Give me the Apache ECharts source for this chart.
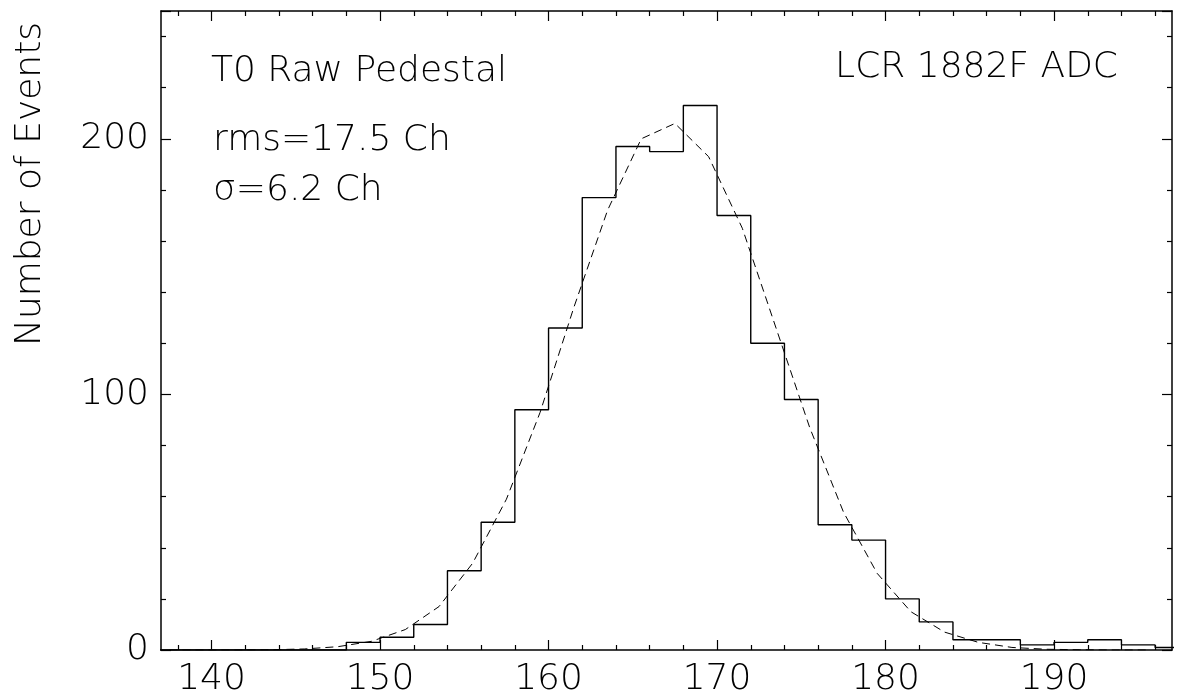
<!DOCTYPE html>
<html>
<head>
<meta charset="utf-8">
<title>T0 Raw Pedestal</title>
<script src="https://cdn.jsdelivr.net/npm/echarts@6/dist/echarts.min.js"></script>
<style>
	html, body { margin: 0; padding: 0; background: #fff; }
	#chart { width: 1177px; height: 698px; }
</style>
</head>
<body>
<div id="chart"></div>
<script>
// histogram bins (2 channels wide), left edges plus final right edge
const binEdges = [ 136, 138, 140, 142, 144, 146, 148, 150, 152, 154, 156, 158, 160, 162, 164, 166,
	168, 170, 172, 174, 176, 178, 180, 182, 184, 186, 188, 190, 192, 194, 196, 198 ];
const counts = [ 0, 0, 0, 0, 0, 0, 3, 5, 10, 31, 50, 94, 126, 177, 197, 195,
	213, 170, 120, 98, 49, 43, 20, 11, 4, 4, 2, 3, 4, 2, 1 ];

// gaussian fit
const fitX = [ 137.5, 139.5, 141.5, 143.5, 145.5, 147.5, 149.5, 151.5, 153.5, 155.5, 157.5, 159.5,
	161.5, 163.5, 165.5, 167.5, 169.5, 171.5, 173.5, 175.5, 177.5, 179.5, 181.5, 183.5, 185.5,
	187.5, 189.5, 191.5, 193.5, 195.5 ];
const fitY = [ 0, 0, 0, 0.1, 0.4, 1.3, 3.4, 8, 17, 34, 59, 93,
	134, 172, 200, 206, 193, 165, 126, 87, 54, 30, 15, 7, 3,
	1, 0.3, 0.1, 0, 0 ];

const xRange = [ 137, 197 ];
const yRange = [ 0, 250 ];
const xMajorTicks = [ 140, 150, 160, 170, 180, 190 ];
const xMinorTicks = [ 138, 142, 144, 146, 148, 152, 154, 156, 158, 162, 164, 166, 168,
	172, 174, 176, 178, 182, 184, 186, 188, 192, 194, 196 ];
const yTickStep = 100;

const titleTexts = [ 'T0 Raw Pedestal', 'rms=17.5 Ch', 'σ=6.2 Ch' ];
const rightText = 'LCR 1882F ADC';
const yTitle = 'Number of Events';

const FONT = '"DejaVu Sans", Helvetica, Arial, sans-serif';
const WEIGHT = 200;

const histData = counts.map( ( c, i ) => [ binEdges[ i ], c ] );
histData.push( [ binEdges[ binEdges.length - 1 ], counts[ counts.length - 1 ] ] );
const fitData = fitX.map( ( x, i ) => [ x, fitY[ i ] ] );

const lineColor = { color: '#000', width: 1.2 };

function labelStyle( show ) {
	return {
		show: show,
		color: '#000',
		fontFamily: FONT,
		fontWeight: WEIGHT,
		fontSize: 36,
		margin: 12
	};
}

// x axes: ticks come from the tick lists, since min is not on the 10 grid
function xAxisPair( pos, showLabels ) {
	const base = {
		type: 'value',
		position: pos,
		min: xRange[ 0 ],
		max: xRange[ 1 ],
		splitLine: { show: false },
		minorTick: { show: false }
	};
	const major = Object.assign( {}, base, {
		axisLine: { show: true, onZero: false, lineStyle: { color: '#000', width: 1.5 } },
		axisTick: { show: true, inside: true, length: 10, customValues: xMajorTicks, lineStyle: lineColor },
		axisLabel: Object.assign( labelStyle( showLabels ), { customValues: xMajorTicks } )
	} );
	const minor = Object.assign( {}, base, {
		axisLine: { show: false, onZero: false },
		axisTick: { show: true, inside: true, length: 5, customValues: xMinorTicks, lineStyle: lineColor },
		axisLabel: { show: false }
	} );
	return [ major, minor ];
}

function yAxis( pos, showLabels ) {
	const lbl = labelStyle( showLabels );
	lbl.showMaxLabel = false;
	return {
		type: 'value',
		position: pos,
		min: yRange[ 0 ],
		max: yRange[ 1 ],
		interval: yTickStep,
		splitLine: { show: false },
		axisLine: { show: true, onZero: false, lineStyle: { color: '#000', width: 1.5 } },
		axisTick: { show: true, inside: true, length: 10, lineStyle: lineColor },
		minorTick: { show: true, splitNumber: 5, length: 5, lineStyle: lineColor },
		axisLabel: lbl
	};
}

const chart = echarts.init( document.getElementById( 'chart' ), null, { renderer: 'canvas' } );

const textStyle = {
	fill: '#000',
	font: WEIGHT + ' 36px ' + FONT,
	textVerticalAlign: 'top'
};

function label( pos, text, extra ) {
	return Object.assign( { type: 'text' }, pos, {
		style: Object.assign( {}, textStyle, { text: text }, extra || {} )
	} );
}

chart.setOption( {
	animation: false,
	backgroundColor: '#fff',
	grid: { left: 161, right: 5, top: 11, bottom: 48, containLabel: false },
	xAxis: xAxisPair( 'bottom', true ).concat( xAxisPair( 'top', false ) ),
	yAxis: [ yAxis( 'left', true ), yAxis( 'right', false ) ],
	series: [
		{
			type: 'line',
			step: 'end',
			data: histData,
			symbol: 'none',
			clip: true,
			lineStyle: { color: '#000', width: 1.4 }
		},
		{
			type: 'line',
			data: fitData,
			symbol: 'none',
			clip: true,
			lineStyle: { color: '#000', width: 1, type: [ 8, 5 ] }
		}
	],
	graphic: [
		label( { left: 211, top: 54 }, titleTexts[ 0 ] ),
		label( { left: 213, top: 123 }, titleTexts[ 1 ] ),
		label( { left: 213, top: 173 }, titleTexts[ 2 ] ),
		label( { right: 59, top: 50 }, rightText ),
		{
			type: 'text',
			x: 31,
			y: 184,
			rotation: Math.PI / 2,
			style: Object.assign( {}, textStyle, { text: yTitle, textAlign: 'center', textVerticalAlign: 'middle' } )
		}
	]
} );
</script>
</body>
</html>
